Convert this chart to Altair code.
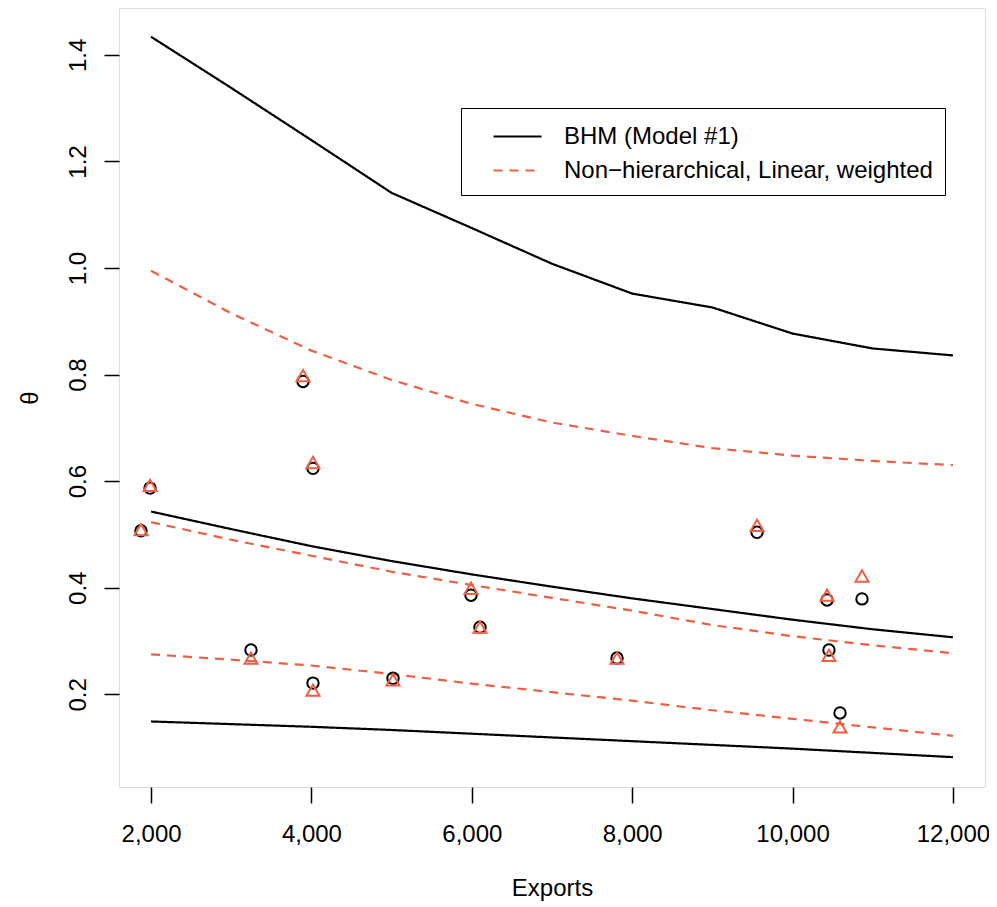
import altair as alt
import pandas as pd

# ---- data ----
x_grid = [2000, 3000, 4000, 5000, 6000, 7000, 8000, 9000, 10000, 11000, 12000]

bhm_upper = [1.434, 1.338, 1.240, 1.141, 1.075, 1.008, 0.952, 0.926, 0.877, 0.849, 0.836]
bhm_middle = [0.543, 0.510, 0.478, 0.450, 0.425, 0.402, 0.380, 0.360, 0.340, 0.322, 0.307]
bhm_lower = [0.149, 0.144, 0.139, 0.133, 0.126, 0.119, 0.112, 0.105, 0.098, 0.090, 0.082]

nh_upper = [0.995, 0.915, 0.845, 0.790, 0.745, 0.710, 0.685, 0.662, 0.648, 0.638, 0.630]
nh_middle = [0.523, 0.490, 0.460, 0.430, 0.405, 0.381, 0.357, 0.330, 0.309, 0.292, 0.277]
nh_lower = [0.275, 0.265, 0.254, 0.238, 0.220, 0.204, 0.188, 0.170, 0.154, 0.138, 0.122]

pt_x = [1874, 1987, 3895, 4019, 3246, 4019, 5017, 5990, 6102, 7811, 9557, 10430, 10866, 10454, 10592]
circle_y = [0.507, 0.587, 0.787, 0.624, 0.283, 0.221, 0.230, 0.386, 0.326, 0.268, 0.504, 0.377, 0.379, 0.283, 0.165]
triangle_y = [0.509, 0.592, 0.798, 0.635, 0.268, 0.208, 0.227, 0.399, 0.326, 0.268, 0.517, 0.386, 0.422, 0.273, 0.139]

BHM = "BHM (Model #1)"
NH = "Non\u2212hierarchical, Linear, weighted"
series_names = [BHM, NH]

RED = "#EE5F44"
FONT = "Liberation Sans"
FS = 24

rows = []
for name, band, vals in [
    (BHM, "upper", bhm_upper), (BHM, "middle", bhm_middle), (BHM, "lower", bhm_lower),
    (NH, "upper", nh_upper), (NH, "middle", nh_middle), (NH, "lower", nh_lower),
]:
    for x, y in zip(x_grid, vals):
        rows.append({"series": name, "band": name + band, "x": x, "y": y})
lines_df = pd.DataFrame(rows)

pts_df = pd.DataFrame({"x": pt_x, "circle": circle_y, "triangle": triangle_y})

xscale = alt.Scale(domain=[1600, 12400], nice=False, zero=False)
yscale = alt.Scale(domain=[0.026, 1.488], nice=False, zero=False)

xaxis = alt.Axis(values=[2000, 4000, 6000, 8000, 10000, 12000], format=",d",
                 title="Exports", grid=False, domain=False, tickSize=16,
                 tickColor="black", tickWidth=1.5, labelPadding=19,
                 labelFontSize=FS, titleFontSize=FS, titleFontWeight="normal",
                 titlePadding=30, labelColor="black", titleColor="black",
                 labelFont=FONT, titleFont=FONT, labelFlush=False)
yaxis = alt.Axis(values=[0.2, 0.4, 0.6, 0.8, 1.0, 1.2, 1.4], format=".1f",
                 title="\u03b8", grid=False, domain=False, tickSize=15,
                 tickColor="black", tickWidth=1.5, labelPadding=14,
                 labelAngle=-90, labelFontSize=FS, titleFontSize=FS,
                 titleFontWeight="normal", titlePadding=24, labelColor="black",
                 titleColor="black", labelFont=FONT, titleFont=FONT,
                 labelFlush=False)

lines = alt.Chart(lines_df).mark_line(strokeWidth=2.2).encode(
    x=alt.X("x:Q", scale=xscale, axis=xaxis),
    y=alt.Y("y:Q", scale=yscale, axis=yaxis),
    color=alt.Color("series:N", scale=alt.Scale(domain=series_names, range=["black", RED]),
                    legend=alt.Legend(orient="none", legendX=342, legendY=100, title=None,
                                      labelFontSize=FS, labelFont=FONT, labelColor="black",
                                      symbolType="M-1.6,0H1.6", symbolSize=900,
                                      symbolStrokeWidth=2.2, symbolOffset=28,
                                      labelOffset=30, rowPadding=5, padding=12,
                                      strokeColor="black", fillColor="white",
                                      labelLimit=600)),
    strokeDash=alt.StrokeDash("series:N",
                              scale=alt.Scale(domain=series_names, range=[[1, 0], [9, 7]]),
                              legend=None),
    detail="band:N",
)

circles = alt.Chart(pts_df).mark_point(shape="circle", filled=False, color="black",
                                       strokeWidth=2, size=130, opacity=1).encode(
    x=alt.X("x:Q", scale=xscale),
    y=alt.Y("circle:Q", scale=yscale),
)

triangles = alt.Chart(pts_df).mark_point(shape="triangle-up", filled=False, color=RED,
                                         strokeWidth=2, size=170, opacity=1).encode(
    x=alt.X("x:Q", scale=xscale),
    y=alt.Y("triangle:Q", scale=yscale),
)

chart = alt.layer(lines, circles, triangles).properties(
    width=866, height=779,
    autosize=alt.AutoSizeParams(type="none"),
    padding={"left": 111, "top": 0, "right": 4, "bottom": 120},
).configure_view(
    stroke="black", strokeWidth=1.5
).configure(background="white")

chart.save("out.html", embed_options={"renderer": "svg", "actions": False})
